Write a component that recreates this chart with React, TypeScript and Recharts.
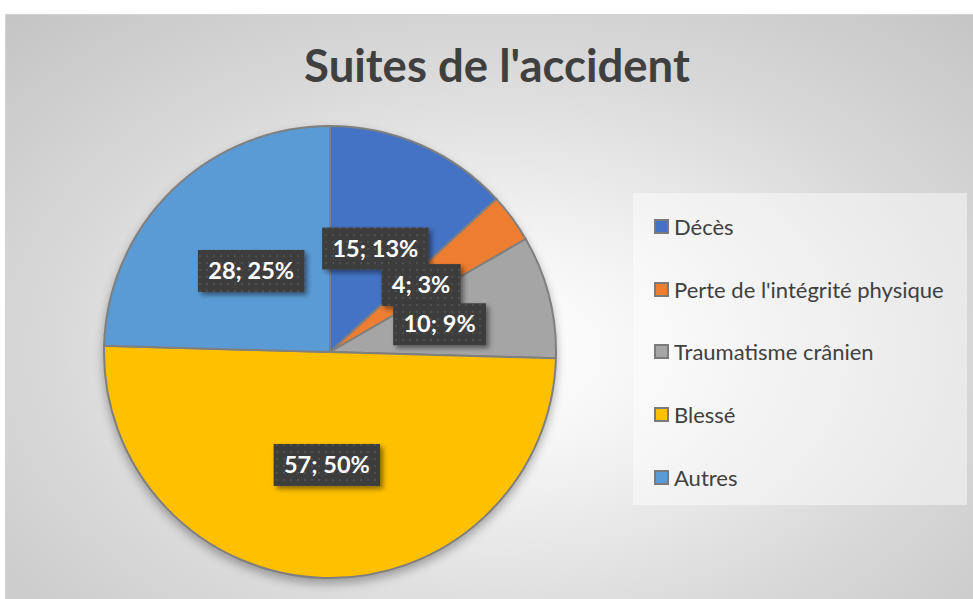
import React from 'react';
import { Cell, Legend, Pie, PieChart } from 'recharts';

const categories = [
  'Décès',
  "Perte de l'intégrité physique",
  'Traumatisme crânien',
  'Blessé',
  'Autres',
];
const counts = [15, 4, 10, 57, 28];
const percentLabels = ['13%', '3%', '9%', '50%', '25%'];
const colors = ['#4472C4', '#ED7D31', '#A5A5A5', '#FFC000', '#5B9BD5'];

const data = categories.map((name, i) => ({ name, value: counts[i], color: colors[i] }));

const RADIAN = Math.PI / 180;
const FONT = 'Lato, "Open Sans", sans-serif';
const LABEL_SIZE = 23.5;

// rough width of the bold label text, good enough for the box
const textWidth = (s: string) =>
  s.split('').reduce((w, c) => {
    if (c >= '0' && c <= '9') return w + 0.58;
    if (c === ';') return w + 0.3;
    if (c === ' ') return w + 0.2;
    if (c === '%') return w + 0.86;
    return w + 0.55;
  }, 0) * LABEL_SIZE;

const renderLabel = (props: any) => {
  const { cx, cy, midAngle, innerRadius, outerRadius, index } = props;
  const r = (innerRadius + outerRadius) / 2;
  const x = cx + r * Math.cos(-midAngle * RADIAN);
  const y = cy + r * Math.sin(-midAngle * RADIAN);
  const text = `${counts[index]}; ${percentLabels[index]}`;
  const w = textWidth(text) + 20;
  const h = 42;
  return (
    <g key={`lbl-${index}`}>
      <rect x={x - w / 2} y={y - h / 2} width={w} height={h} fill="url(#labelDots)" filter="url(#labelShadow)" />
      <text
        x={x}
        y={y + 8}
        textAnchor="middle"
        fill="#ffffff"
        fontFamily={FONT}
        fontWeight={700}
        fontSize={LABEL_SIZE}
      >
        {text}
      </text>
    </g>
  );
};

const renderLegend = () => (
  <div style={{ paddingTop: 2 }}>
    {data.map((d) => (
      <div
        key={d.name}
        style={{ height: 62.8, display: 'flex', alignItems: 'center', paddingLeft: 21 }}
      >
        <span
          style={{
            width: 11,
            height: 11,
            background: d.color,
            border: '2px solid #7a7a7a',
            marginRight: 5,
            display: 'inline-block',
            flexShrink: 0,
          }}
        />
        <span style={{ fontFamily: FONT, fontSize: 22, color: '#404040', whiteSpace: 'nowrap' }}>{d.name}</span>
      </div>
    ))}
  </div>
);

export default function App() {
  return (
    <div style={{ position: 'absolute', left: 0, top: 0, width: 973, height: 599, overflow: 'hidden', background: '#fff' }}>
      <style>{`.recharts-pie { filter: drop-shadow(0px 5px 5px rgba(0,0,0,0.3)); }`}</style>
      <div
        style={{
          position: 'absolute',
          left: 5,
          top: 14,
          width: 990,
          height: 600,
          borderTop: '1px solid #d4d4d4',
          borderLeft: '1px solid #d4d4d4',
          background:
            'radial-gradient(ellipse 72% 78% at 50% 56%, #ffffff 0%, #f5f5f5 22%, #d9d9d9 62%, #c4c4c4 100%)',
        }}
      />
      <svg width={0} height={0} style={{ position: 'absolute' }}>
        <defs>
          <pattern id="labelDots" width={7} height={7} patternUnits="userSpaceOnUse">
            <rect width={7} height={7} fill="#3d3d3d" />
            <rect x={3} y={3} width={2} height={2} fill="#4f4f4f" />
          </pattern>
          <filter id="labelShadow" x="-20%" y="-30%" width="150%" height="170%">
            <feDropShadow dx={3} dy={3} stdDeviation={2.5} floodColor="#000" floodOpacity={0.45} />
          </filter>
        </defs>
      </svg>
      <div
        style={{
          position: 'absolute',
          left: 0,
          width: 994,
          top: 37,
          textAlign: 'center',
          fontFamily: FONT,
          fontWeight: 700,
          fontSize: 45.5,
          color: '#404040',
        }}
      >
        Suites de l'accident
      </div>
      <div style={{ position: 'absolute', left: 0, top: 0 }}>
        <PieChart width={973} height={599} margin={{ top: 0, right: 0, bottom: 0, left: 0 }}>
          <Pie
            data={data}
            dataKey="value"
            nameKey="name"
            cx={330}
            cy={352}
            outerRadius={226}
            startAngle={90}
            endAngle={-270}
            stroke="#7f7f7f"
            strokeWidth={2}
            label={renderLabel}
            labelLine={false}
            isAnimationActive={false}
          >
            {data.map((d) => (
              <Cell key={d.name} fill={d.color} />
            ))}
          </Pie>
          <Legend
            layout="vertical"
            content={renderLegend}
            wrapperStyle={{
              position: 'absolute',
              left: 633,
              top: 193,
              width: 334,
              height: 312,
              background: 'rgba(255,255,255,0.45)',
            }}
          />
        </PieChart>
      </div>
    </div>
  );
}
